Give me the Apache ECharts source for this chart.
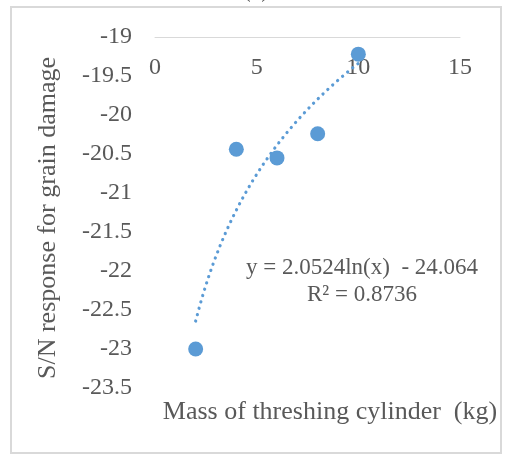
<!DOCTYPE html>
<html>
<head>
<meta charset="utf-8">
<script src="https://cdn.jsdelivr.net/npm/echarts@6/dist/echarts.min.js"></script>
<style>html,body{margin:0;padding:0;background:#fff;}#c{width:505px;height:457px;}</style>
</head>
<body>
<div id="c"></div>
<script>
// Data
const massKg = [2, 4, 6, 8, 10];
const snResponse = [-23.0, -20.44, -20.55, -20.24, -19.22];
// Logarithmic trendline coefficients printed on the chart: y = a ln(x) + b
const trendCoef = [2.0524, -24.064];
const trendRange = [2, 10];
const xTicks = [0, 5, 10, 15];
const yTickRange = [-23.5, -19];

const trendData = [];
for (let x = trendRange[0]; x <= trendRange[1] + 1e-9; x += 0.2) {
  trendData.push([x, trendCoef[0] * Math.log(x) + trendCoef[1]]);
}

const FONT = '"Liberation Serif", "Times New Roman", serif';
const GRAY = '#595959';
const chart = echarts.init(document.getElementById('c'), null, {renderer: 'canvas'});
chart.setOption({
  animation: false,
  backgroundColor: '#fff',
  grid: {left: 155, right: 45, top: 37, bottom: 69, containLabel: false},
  xAxis: {
    type: 'value', position: 'top',
    min: xTicks[0], max: xTicks[xTicks.length - 1], interval: 5,
    axisLine: {show: true, lineStyle: {color: '#d9d9d9', width: 1}},
    axisTick: {show: false},
    splitLine: {show: false},
    axisLabel: {inside: true, margin: 19, color: GRAY, fontFamily: FONT, fontSize: 24}
  },
  yAxis: {
    type: 'value',
    min: yTickRange[0], max: yTickRange[1], interval: 0.5,
    axisLine: {show: false}, axisTick: {show: false}, splitLine: {show: false},
    axisLabel: {margin: 23, color: GRAY, fontFamily: FONT, fontSize: 24}
  },
  series: [
    {
      type: 'line', data: trendData, showSymbol: false, smooth: false,
      lineStyle: {color: '#5b9bd5', width: 3.2, type: [0.1, 6.5], cap: 'round'},
      z: 2
    },
    {
      type: 'scatter', data: massKg.map((x, i) => [x, snResponse[i]]),
      symbolSize: 15, itemStyle: {color: '#5b9bd5', opacity: 1}, z: 3
    }
  ],
  graphic: [
    {type: 'rect', shape: {x: 11, y: 7, width: 490, height: 446},
     style: {fill: 'none', stroke: '#d9d9d9', lineWidth: 2}, silent: true},
    {type: 'text', style: {text: '(c)', x: 256, y: 3, align: 'center', verticalAlign: 'bottom',
     fill: GRAY, font: '24px ' + FONT}},
    {type: 'text', x: 48, y: 218, rotation: Math.PI / 2,
     style: {text: 'S/N response for grain damage', x: 0, y: 0, align: 'center', verticalAlign: 'middle',
     fill: GRAY, font: '26px ' + FONT}},
    {type: 'text', style: {text: 'Mass of threshing cylinder  (kg)', x: 330, y: 412, align: 'center', verticalAlign: 'middle',
     fill: GRAY, font: '26px ' + FONT}},
    {type: 'text', style: {text: 'y = 2.0524ln(x)  - 24.064', x: 362, y: 268, align: 'center', verticalAlign: 'middle',
     fill: GRAY, font: '23px ' + FONT}},
    {type: 'text', style: {text: 'R² = 0.8736', x: 362, y: 295, align: 'center', verticalAlign: 'middle',
     fill: GRAY, font: '23px ' + FONT}}
  ]
});
</script>
</body>
</html>
